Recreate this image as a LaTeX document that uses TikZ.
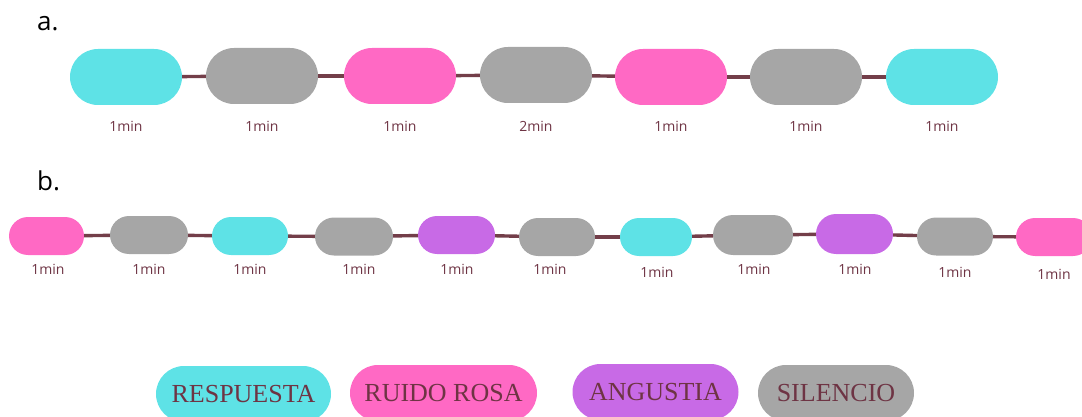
\documentclass[tikz,border=0pt]{standalone}
\usepackage{fontspec}
\setmainfont{Open Sans}
\newfontfamily\legfont{Liberation Serif}
\definecolor{cy}{HTML}{5EE2E6}
\definecolor{gr}{HTML}{A6A6A6}
\definecolor{pk}{HTML}{FF69C4}
\definecolor{pu}{HTML}{C86AE6}
\definecolor{ln}{HTML}{733E49}
\definecolor{tx}{HTML}{6E3444}
\tikzset{
  pillA/.style={fill=#1, minimum width=112, minimum height=56, rounded corners=28, inner sep=0},
  pillB/.style={fill=#1, minimum width=76, minimum height=38, rounded corners=19, inner sep=0},
  leg/.style={fill=#1, minimum height=56, rounded corners=28, inner sep=0, text=tx, font=\legfont\fontsize{26}{28}\selectfont},
  lab/.style={text=tx, font=\fontsize{14}{16}\selectfont, inner sep=0},
  conn/.style={draw=ln, line width=3.4pt},
  hd/.style={font=\fontsize{26}{28}\selectfont, inner sep=0, anchor=west}
}
\begin{document}
\begin{tikzpicture}[x=1pt,y=-1pt]
\useasboundingbox (0,0) rectangle (1082,417);
\clip (0,0) rectangle (1082,417);
\node[hd] (ha) at (37,24) {a.};
\node[hd] (hb) at (37,181) {b.};
% row a
\node[pillA=cy] (a1) at (126,77) {};
\node[pillA=gr] (a2) at (262,76) {};
\node[pillA=pk] (a3) at (400,76) {};
\node[pillA=gr] (a4) at (536,75) {};
\node[pillA=pk] (a5) at (671,77) {};
\node[pillA=gr] (a6) at (806,77) {};
\node[pillA=cy] (a7) at (942,77) {};
\foreach \i/\j in {1/2,2/3,3/4,4/5,5/6,6/7}{\draw[conn] (a\i) -- (a\j);}
\node[lab] (la1) at (126,126) {1min};
\node[lab] (la2) at (262,126) {1min};
\node[lab] (la3) at (400,126) {1min};
\node[lab] (la4) at (536,126) {2min};
\node[lab] (la5) at (671,126) {1min};
\node[lab] (la6) at (806,126) {1min};
\node[lab] (la7) at (942,126) {1min};
% row b
\node[pillB=pk, minimum width=75] (b1) at (46.5,236) {};
\node[pillB=gr, minimum width=78] (b2) at (149,235) {};
\node[pillB=cy] (b3) at (250,236) {};
\node[pillB=gr, minimum width=78] (b4) at (354,236.5) {};
\node[pillB=pu, minimum width=77] (b5) at (456.5,235) {};
\node[pillB=gr] (b6) at (557,237) {};
\node[pillB=cy, minimum width=72] (b7) at (656,237) {};
\node[pillB=gr, minimum width=80, minimum height=40, rounded corners=20] (b8) at (753,235) {};
\node[pillB=pu, minimum width=77, minimum height=40, rounded corners=20] (b9) at (854.5,234) {};
\node[pillB=gr] (b10) at (955,236.5) {};
\node[pillB=pk] (b11) at (1054,237) {};
\foreach \i/\j in {1/2,2/3,3/4,4/5,5/6,6/7,7/8,8/9,9/10,10/11}{\draw[conn] (b\i) -- (b\j);}
\node[lab] (lb1) at (48,269) {1min};
\node[lab] (lb2) at (149,269) {1min};
\node[lab] (lb3) at (250,269) {1min};
\node[lab] (lb4) at (359,269) {1min};
\node[lab] (lb5) at (457,269) {1min};
\node[lab] (lb6) at (550,269) {1min};
\node[lab] (lb7) at (657,272) {1min};
\node[lab] (lb8) at (754,269) {1min};
\node[lab] (lb9) at (855,269) {1min};
\node[lab] (lb10) at (955,272) {1min};
\node[lab] (lb11) at (1054,274) {1min};
% legend
\node[leg=cy, minimum width=175] (k1) at (243.5,394) {RESPUESTA};
\node[leg=pk, minimum width=187] (k2) at (443.5,393) {RUIDO ROSA};
\node[leg=pu, minimum width=166] (k3) at (655.5,392) {ANGUSTIA};
\node[leg=gr, minimum width=156] (k4) at (836,393) {SILENCIO};
\end{tikzpicture}
\end{document}
